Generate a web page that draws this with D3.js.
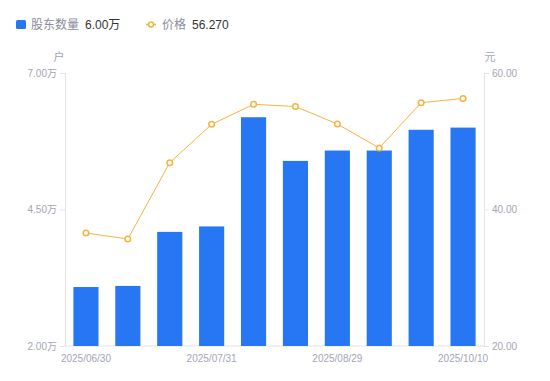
<!DOCTYPE html>
<html><head><meta charset="utf-8">
<script src="https://cdn.jsdelivr.net/npm/d3@7"></script>
<style>body{margin:0;background:#fff}svg{display:block;font-family:"Liberation Sans","Noto Sans CJK SC",sans-serif}</style>
</head><body><svg id="c" width="550" height="381"></svg>
<script>
const categories = ["2025/06/30","2025/07/10","2025/07/20","2025/07/31","2025/08/10","2025/08/20","2025/08/29","2025/09/10","2025/09/30","2025/10/10"];
const holders = [3.08, 3.10, 4.09, 4.19, 6.19, 5.39, 5.58, 5.58, 5.96, 6.00];
const prices = [36.56, 35.68, 46.86, 52.48, 55.41, 55.09, 52.53, 49.01, 55.65, 56.27];
const leftTicks = [2.0, 4.5, 7.0];
const rightTicks = [20, 40, 60];
const xTickLabels = ["2025/06/30","2025/07/31","2025/08/29","2025/10/10"];

const svg = d3.select("#c");
const L = 65, R = 484, T = 73, B = 346;
const x = d3.scaleBand().domain(categories).range([L, R]).paddingInner(0.4).paddingOuter(0.2);
const xc = d3.scaleBand().domain(categories).range([L, R]);
const yL = d3.scaleLinear().domain([2, 7]).range([B, T]);
const yR = d3.scaleLinear().domain([20, 60]).range([B, T]);
const axisCol = "#e3e3e6", tickTxt = "#a3a5b3";

// axes
const gl = svg.append("g").attr("transform", `translate(${L},0)`)
  .call(d3.axisLeft(yL).tickValues(leftTicks).tickSize(5).tickPadding(3).tickFormat(d => d3.format(".2f")(d) + "万"));
const gr = svg.append("g").attr("transform", `translate(${R},0)`)
  .call(d3.axisRight(yR).tickValues(rightTicks).tickSize(5).tickPadding(3).tickFormat(d3.format(".2f")));
const gx = svg.append("g").attr("transform", `translate(0,${B})`)
  .call(d3.axisBottom(xc).tickValues(xTickLabels).tickSize(0).tickPadding(9));
[gl, gr, gx].forEach(g => {
  g.attr("font-family", null);
  g.selectAll("path.domain").attr("stroke", axisCol);
  g.selectAll("line").attr("stroke", axisCol);
  g.selectAll("text").attr("fill", tickTxt).attr("font-size", 10);
});
gx.select("path.domain").attr("d", `M${L},0H${R}`);

// bars
svg.append("g").selectAll("rect").data(categories).join("rect")
  .attr("x", d => x(d)).attr("width", x.bandwidth())
  .attr("y", (d, i) => yL(holders[i])).attr("height", (d, i) => B - yL(holders[i]))
  .attr("fill", "#2777f4");

// line
const lineCol = "#f6b33f";
svg.append("path").datum(prices)
  .attr("d", d3.line().x((d, i) => xc(categories[i]) + xc.bandwidth() / 2).y(d => yR(d)))
  .attr("fill", "none").attr("stroke", lineCol).attr("stroke-width", 1);
svg.append("g").selectAll("circle").data(prices).join("circle")
  .attr("cx", (d, i) => xc(categories[i]) + xc.bandwidth() / 2).attr("cy", d => yR(d))
  .attr("r", 2.8).attr("fill", "#fff").attr("stroke", lineCol).attr("stroke-width", 1.5);

// axis names
svg.append("text").attr("x", 59).attr("y", 61).attr("text-anchor", "middle").attr("font-size", 11).attr("fill", tickTxt).text("户");
svg.append("text").attr("x", 490).attr("y", 61).attr("text-anchor", "middle").attr("font-size", 11).attr("fill", tickTxt).text("元");

// legend
const lg = svg.append("g");
lg.append("rect").attr("x", 16).attr("y", 20).attr("width", 10).attr("height", 9).attr("rx", 1.5).attr("fill", "#2777f4");
lg.append("text").attr("x", 31).attr("y", 29).attr("font-size", 12).attr("fill", "#8a8c99").text("股东数量");
lg.append("text").attr("x", 85).attr("y", 29).attr("font-size", 12).attr("fill", "#333").text(d3.format(".2f")(holders[holders.length-1]) + "万");
lg.append("line").attr("x1", 146).attr("x2", 156).attr("y1", 24.5).attr("y2", 24.5).attr("stroke", lineCol).attr("stroke-width", 1.5);
lg.append("circle").attr("cx", 151).attr("cy", 24.5).attr("r", 2.5).attr("fill", "#fff").attr("stroke", lineCol).attr("stroke-width", 1.5);
lg.append("text").attr("x", 162).attr("y", 29).attr("font-size", 12).attr("fill", "#8a8c99").text("价格");
lg.append("text").attr("x", 192).attr("y", 29).attr("font-size", 12).attr("fill", "#333").text(d3.format(".3f")(prices[prices.length-1]));
</script></body></html>
